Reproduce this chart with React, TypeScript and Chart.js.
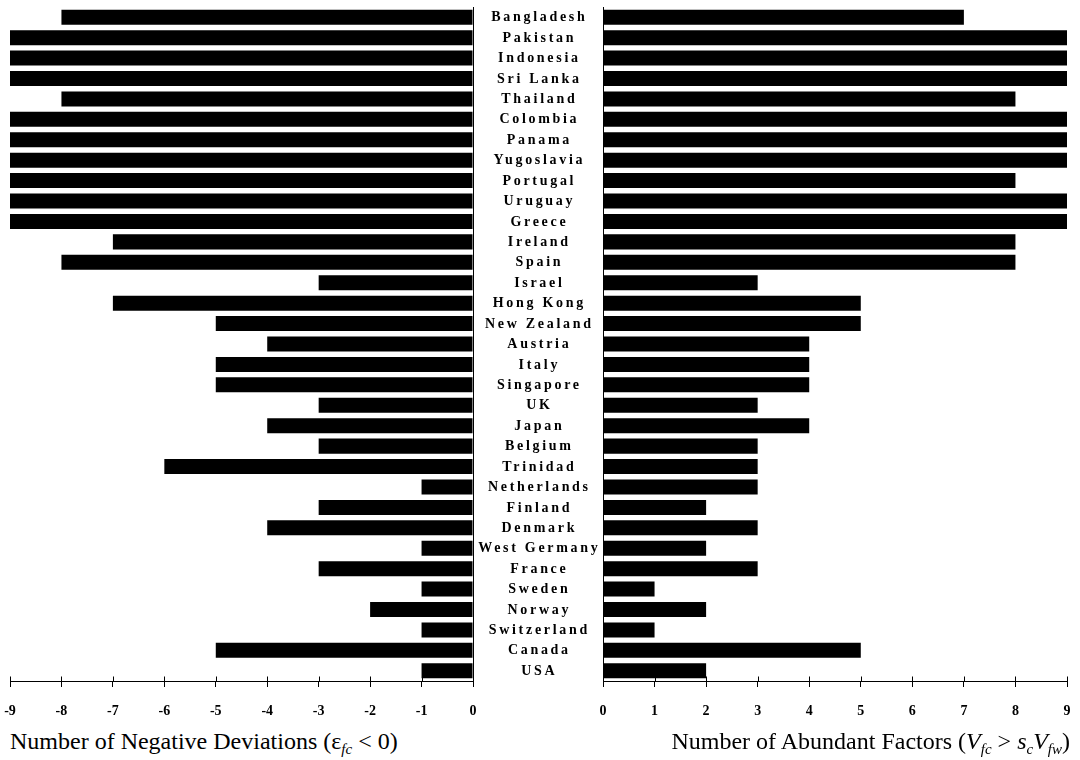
import React, { useEffect, useRef } from "react";
import { Chart, registerables } from "chart.js";

Chart.register(...registerables);

const countries = [
  "Bangladesh", "Pakistan", "Indonesia", "Sri Lanka", "Thailand", "Colombia",
  "Panama", "Yugoslavia", "Portugal", "Uruguay", "Greece", "Ireland", "Spain",
  "Israel", "Hong Kong", "New Zealand", "Austria", "Italy", "Singapore", "UK",
  "Japan", "Belgium", "Trinidad", "Netherlands", "Finland", "Denmark",
  "West Germany", "France", "Sweden", "Norway", "Switzerland", "Canada", "USA",
];

const negativeDeviations = [
  -8, -9, -9, -9, -8, -9, -9, -9, -9, -9, -9, -7, -8, -3, -7, -5, -4, -5, -5,
  -3, -4, -3, -6, -1, -3, -4, -1, -3, -1, -2, -1, -5, -1,
];

const abundantFactors = [
  7, 9, 9, 9, 8, 9, 9, 9, 8, 9, 9, 8, 8, 3, 5, 5, 4, 4, 4, 3, 4, 3, 3, 3, 2,
  3, 2, 3, 1, 2, 1, 5, 2,
];

const leftRange = [-9, 0];
const rightRange = [0, 9];

const SERIF = '"Liberation Serif", Tinos, "DejaVu Serif", "Noto Serif", serif';

const upperTicks = {
  id: "upperTicks",
  afterDraw(chart: any) {
    const ctx = chart.ctx;
    const xs = chart.scales.x;
    const y = Math.round(chart.chartArea.bottom) + 0.5;
    ctx.save();
    ctx.strokeStyle = "#000";
    ctx.lineWidth = 1;
    ctx.beginPath();
    xs.ticks.forEach((t: any) => {
      const x = Math.round(xs.getPixelForValue(t.value)) + 0.5;
      ctx.moveTo(x, y - 5);
      ctx.lineTo(x, y);
    });
    ctx.stroke();
    ctx.restore();
  },
};

const countryLabels = {
  id: "countryLabels",
  afterDraw(chart: any) {
    const ctx = chart.ctx;
    const ys = chart.scales.y;
    const cx = chart.chartArea.right + 65;
    ctx.save();
    ctx.fillStyle = "#000";
    ctx.font = `bold 14px ${SERIF}`;
    (ctx as any).letterSpacing = "2.7px";
    ctx.textAlign = "center";
    ctx.textBaseline = "middle";
    chart.data.labels.forEach((lab: string, i: number) => {
      ctx.fillText(lab, cx + 1.35, ys.getPixelForValue(i) + 0.5);
    });
    ctx.restore();
  },
};

function xScale(range: number[]) {
  return {
    type: "linear",
    min: range[0],
    max: range[1],
    ticks: {
      stepSize: 1,
      color: "#000",
      font: { family: SERIF, size: 14, weight: "bold" },
      padding: 16,
    },
    grid: {
      color: (c: any) => (c.tick && c.tick.value === 0 ? "#000" : "rgba(0,0,0,0)"),
      tickColor: "#000",
      tickLength: 6,
      lineWidth: 1,
    },
    border: { display: true, color: "#000", width: 1 },
    afterFit: (s: any) => {
      s.height = 40;
      s.paddingLeft = 0;
      s.paddingRight = 0;
    },
  };
}

export default function App() {
  const leftRef = useRef<HTMLCanvasElement>(null);
  const rightRef = useRef<HTMLCanvasElement>(null);

  useEffect(() => {
    const left = new Chart(leftRef.current as HTMLCanvasElement, {
      type: "bar",
      data: {
        labels: countries,
        datasets: [
          {
            data: negativeDeviations,
            backgroundColor: "#000",
            barPercentage: 0.735,
            categoryPercentage: 1,
          },
        ],
      },
      options: {
        indexAxis: "y",
        responsive: false,
        animation: false,
        layout: { padding: { left: 10, top: 7, right: 0, bottom: 0 } },
        plugins: { legend: { display: false }, tooltip: { enabled: false } },
        scales: {
          x: xScale(leftRange) as any,
          y: {
            position: "right",
            ticks: { display: false },
            grid: { display: false },
            border: { display: false },
            afterFit: (s: any) => {
              s.width = 130;
            },
          },
        },
      },
      plugins: [upperTicks, countryLabels],
    });

    const right = new Chart(rightRef.current as HTMLCanvasElement, {
      type: "bar",
      data: {
        labels: countries,
        datasets: [
          {
            data: abundantFactors,
            backgroundColor: "#000",
            barPercentage: 0.735,
            categoryPercentage: 1,
          },
        ],
      },
      options: {
        indexAxis: "y",
        responsive: false,
        animation: false,
        layout: { padding: { left: 13, top: 7, right: 13, bottom: 0 } },
        plugins: { legend: { display: false }, tooltip: { enabled: false } },
        scales: {
          x: xScale(rightRange) as any,
          y: { display: false },
        },
      },
      plugins: [upperTicks],
    });

    return () => {
      left.destroy();
      right.destroy();
    };
  }, []);

  const titleStyle: React.CSSProperties = {
    position: "absolute",
    top: 729,
    fontFamily: SERIF,
    fontSize: 24,
    lineHeight: "24px",
    color: "#000",
    whiteSpace: "nowrap",
  };
  const subStyle: React.CSSProperties = {
    fontSize: 15,
    fontStyle: "italic",
    verticalAlign: "-5px",
    lineHeight: 0,
  };

  return (
    <div
      style={{
        position: "absolute",
        left: 0,
        top: 0,
        width: 1080,
        height: 760,
        background: "#fff",
        overflow: "hidden",
      }}
    >
      <canvas
        ref={leftRef}
        width={603}
        height={721}
        style={{ position: "absolute", left: 0, top: 0, width: 603, height: 721 }}
      />
      <canvas
        ref={rightRef}
        width={490}
        height={721}
        style={{ position: "absolute", left: 590, top: 0, width: 490, height: 721 }}
      />
      <div style={{ ...titleStyle, left: 10 }}>
        Number of Negative Deviations (ε<span style={subStyle}>fc</span> &lt; 0)
      </div>
      <div style={{ ...titleStyle, right: 10 }}>
        Number of Abundant Factors (<i>V</i>
        <span style={subStyle}>fc</span> &gt; <i>s</i>
        <span style={subStyle}>c</span>
        <i>V</i>
        <span style={subStyle}>fw</span>)
      </div>
    </div>
  );
}
